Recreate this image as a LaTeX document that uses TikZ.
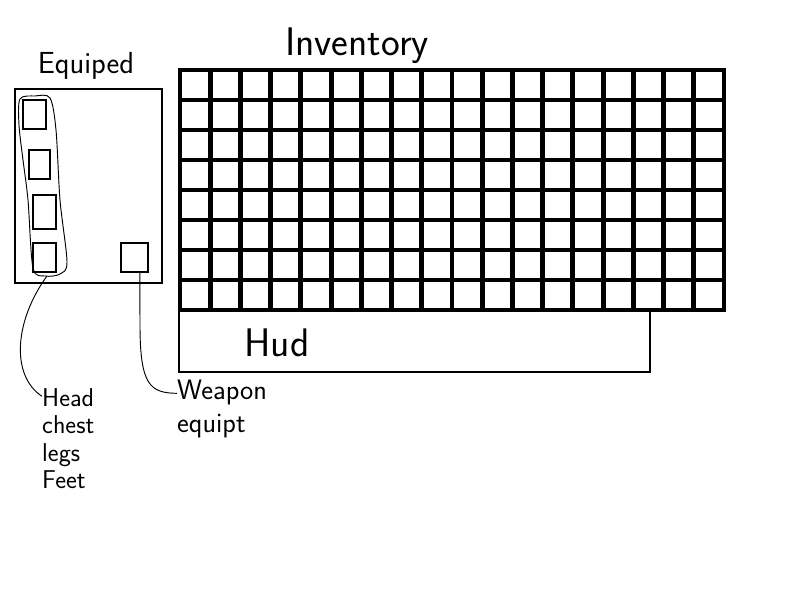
\documentclass[tikz,border=0pt]{standalone}
\usetikzlibrary{positioning}

\tikzset{
  slot/.style={draw, line width=1.7pt, inner sep=0pt},
  box/.style={line width=1.7pt},
  cell/.style={line width=4.2pt},
  pen/.style={line width=0.8pt},
  lbl/.style={font=\sffamily\fontsize{22}{22}\selectfont, inner sep=0pt, align=left},
}

\begin{document}
\begin{tikzpicture}[x=0.3mm,y=-0.3mm]

   \useasboundingbox[fill=white] (0,0) rectangle (800,600);

   % equipped panel
   \draw[box] (15,89) rectangle (162,283);
   \node[lbl, font=\sffamily\fontsize{26}{26}\selectfont] (equiped) at (86,66) {Equiped};

   \node[slot, minimum width=6.9mm, minimum height=8.7mm] (head) at (34.5,114.5) {};
   \node[slot, minimum width=6.3mm, minimum height=8.7mm] (chest) at (39.5,164.5) {};
   \node[slot, minimum width=6.9mm, minimum height=10.2mm] (legs) at (44.5,212) {};
   \node[slot, minimum width=6.9mm, minimum height=8.7mm] (feet) at (44.5,257.5) {};
   \node[slot, minimum width=8.1mm, minimum height=8.7mm] (weapon) at (134.5,257.5) {};

   % loop round the armour slots
   \draw[pen] plot[smooth cycle] coordinates {(20,99) (35,96) (50,98) (56,130) (60,200)
      (67,262) (60,274) (45,276) (33,268) (28,200) (23,160) (19,125)};
   \coordinate (armourtip) at (47,276);

   % inventory grid
   \foreach \i in {0,...,18}
      \draw[cell] ({180+\i*30.22},68) -- ({180+\i*30.22},312);
   \foreach \j in {0,...,8}
      \draw[cell] (178,{70+\j*30}) -- (726,{70+\j*30});
   \node[lbl, font=\sffamily\fontsize{34}{34}\selectfont] (inventory) at (357,46) {Inventory};

   % hud
   \draw[box] (179,310) rectangle (650,372);
   \node[lbl, font=\sffamily\fontsize{34}{34}\selectfont] (hud) at (277,343) {Hud};

   % notes
   \node[lbl, font=\sffamily\fontsize{22}{23.5}\selectfont, anchor=north west] (armour) at (42,388) {Head\\chest\\legs\\Feet};
   \node[lbl, font=\sffamily\fontsize{24}{28}\selectfont, anchor=north west] (weaponlbl) at (177,380) {Weapon\\equipt};

   \draw[pen] (armourtip) .. controls (15,320) and (10,375) .. ([yshift=-2.5mm]armour.north west);
   \draw[pen] ([xshift=1.6mm]weapon.south) -- (140,325) .. controls (140,385) and (150,393) .. ([yshift=-4mm]weaponlbl.north west);

\end{tikzpicture}
\end{document}
